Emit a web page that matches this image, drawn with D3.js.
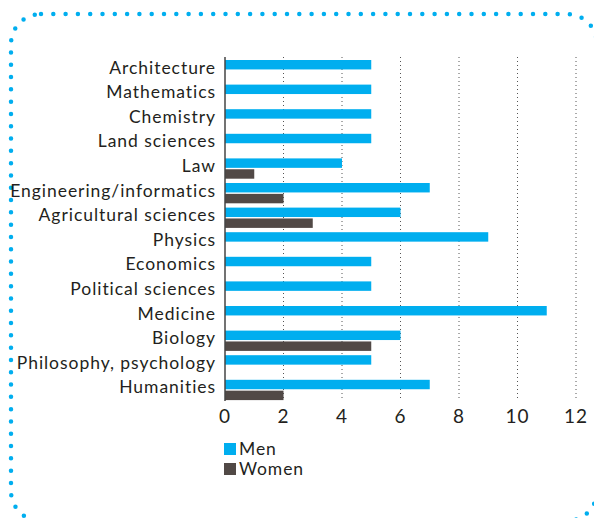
<!DOCTYPE html>
<html>
  <head>
    <meta charset='utf-8' />
    <script src="https://d3js.org/d3.v7.min.js"></script>
    <style>
      body { margin: 0; background: #fff; }
      text { font-family: Lato, "Noto Sans", sans-serif; fill: #231f20; }
      .grid line { stroke: #555; stroke-dasharray: 1,3; }
    </style>
  </head>
  <body>
  <svg width="594" height="518"></svg>
  <script>
    var categories = ["Architecture", "Mathematics", "Chemistry", "Land sciences", "Law",
      "Engineering/informatics", "Agricultural sciences", "Physics", "Economics",
      "Political sciences", "Medicine", "Biology", "Philosophy, psychology", "Humanities"];
    var men   = [5, 5, 5, 5, 4, 7, 6, 9, 5, 5, 11, 6, 5, 7];
    var women = [0, 0, 0, 0, 1, 2, 3, 0, 0, 0, 0, 5, 0, 2];
    var series = ["Men", "Women"];
    var colors = ["#00aeef", "#514946"];
    var xTicks = [0, 2, 4, 6, 8, 10, 12];

    var svg = d3.select("svg");

    // dotted rounded frame
    svg.append("rect")
      .attr("x", 11).attr("y", 14)
      .attr("width", 586).attr("height", 507)
      .attr("rx", 30)
      .attr("fill", "none")
      .attr("stroke", "#00aeef")
      .attr("stroke-width", 4.5)
      .attr("stroke-linecap", "round")
      .attr("stroke-dasharray", "0 12.3");

    var x = d3.scaleLinear().domain([0, 12]).range([225, 576]);
    var y = d3.scaleBand().domain(categories).range([57, 401.4]);
    var sub = d3.scaleBand().domain(series).range([3, 23.3]).paddingInner(0.13);

    // grid
    svg.append("g").attr("class", "grid")
      .selectAll("line")
      .data(xTicks.slice(1))
      .enter().append("line")
        .attr("x1", x).attr("x2", x)
        .attr("y1", 57).attr("y2", 401);

    var rows = categories.map(function(c, i) { return {cat: c, vals: [men[i], women[i]]}; });

    var g = svg.append("g").selectAll("g")
      .data(rows)
      .enter().append("g")
        .attr("transform", function(d) { return "translate(0," + y(d.cat) + ")"; });

    g.selectAll("rect")
      .data(function(d) { return d.vals.map(function(v, j) { return {s: series[j], v: v, j: j}; }); })
      .enter().append("rect")
        .attr("x", x(0))
        .attr("y", function(d) { return sub(d.s); })
        .attr("width", function(d) { return x(d.v) - x(0); })
        .attr("height", sub.bandwidth())
        .attr("fill", function(d) { return colors[d.j]; });

    g.append("text")
      .attr("x", 216)
      .attr("y", 16.5)
      .attr("text-anchor", "end")
      .style("font-size", "17.5px")
      .style("letter-spacing", "0.95px")
      .text(function(d) { return d.cat; });

    // axis line
    svg.append("line")
      .attr("x1", x(0)).attr("x2", x(0))
      .attr("y1", 57).attr("y2", 401)
      .attr("stroke", "#444").attr("stroke-width", 1.5);

    svg.append("g").selectAll("text")
      .data(xTicks)
      .enter().append("text")
        .attr("x", x)
        .attr("y", 423)
        .attr("text-anchor", "middle")
        .style("font-size", "19px")
        .style("letter-spacing", "1px")
        .text(function(d) { return d; });

    // legend
    var lg = svg.append("g").selectAll("g")
      .data(series)
      .enter().append("g")
        .attr("transform", function(d, i) { return "translate(224," + (443 + i * 20) + ")"; });
    lg.append("rect")
      .attr("width", 12).attr("height", 12)
      .attr("fill", function(d, i) { return colors[i]; });
    lg.append("text")
      .attr("x", 15).attr("y", 12)
      .style("font-size", "17.5px")
      .style("letter-spacing", "0.9px")
      .text(function(d) { return d; });
  </script>
  </body>
</html>
